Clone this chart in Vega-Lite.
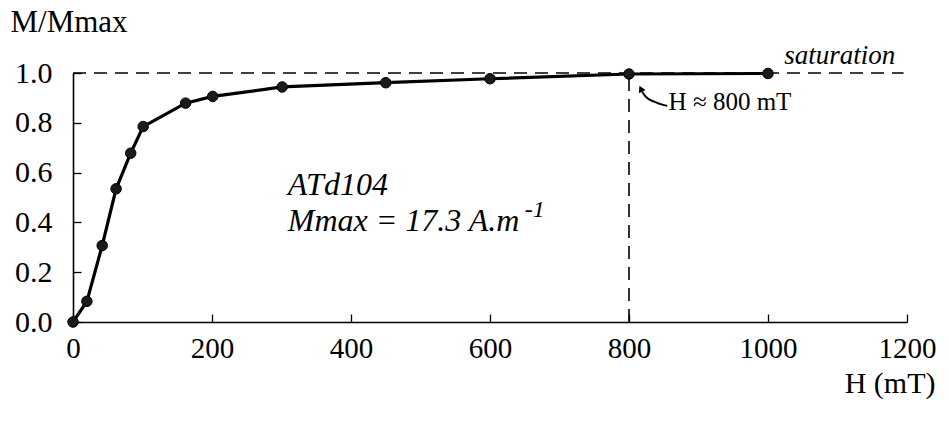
{
  "$schema": "https://vega.github.io/schema/vega-lite/v6.json",
  "width": 834,
  "height": 249,
  "autosize": {"type": "none"},
  "padding": {"left": 73, "top": 73, "right": 42, "bottom": 101},
  "background": "white",
  "config": {
    "view": {"stroke": null},
    "font": "Liberation Serif"
  },
  "datasets": {
    "curve": [
      {"H": 0, "M": 0.0},
      {"H": 20, "M": 0.083},
      {"H": 42, "M": 0.307},
      {"H": 62, "M": 0.535},
      {"H": 83, "M": 0.678},
      {"H": 101, "M": 0.785},
      {"H": 162, "M": 0.879},
      {"H": 201, "M": 0.906},
      {"H": 301, "M": 0.944},
      {"H": 450, "M": 0.961},
      {"H": 600, "M": 0.977},
      {"H": 800, "M": 0.996},
      {"H": 1000, "M": 0.998}
    ],
    "hline": [{"H": 0, "M": 1.0}, {"H": 1195, "M": 1.0}],
    "vline": [{"H": 800, "M": 0.0}, {"H": 800, "M": 1.0}],
    "arrow": [
      {"H": 855, "M": 0.868, "o": 0},
      {"H": 836, "M": 0.885, "o": 1},
      {"H": 824, "M": 0.905, "o": 2},
      {"H": 819, "M": 0.925, "o": 3}
    ],
    "arrowhead": [{"H": 817, "M": 0.937}],
    "sat": [{"H": 1183, "M": 1.068, "t": "saturation"}],
    "hnote": [{"H": 857, "M": 0.885, "t": "H ≈ 800 mT"}],
    "sample": [
      {"H": 309, "M": 0.552, "t": "ATd104"},
      {"H": 309, "M": 0.405, "t": "Mmax = 17.3 A.m"}
    ],
    "sup": [{"H": 650, "M": 0.448, "t": "-1"}]
  },
  "layer": [
    {
      "data": {"name": "hline"},
      "mark": {"type": "line", "color": "black", "strokeWidth": 1.6, "strokeDash": [13, 8], "clip": false},
      "encoding": {
        "x": {
          "field": "H", "type": "quantitative",
          "scale": {"domain": [0, 1200], "nice": false, "zero": true},
          "axis": {
            "values": [0, 200, 400, 600, 800, 1000, 1200],
            "format": "d",
            "title": "H (mT)",
            "titleFont": "Liberation Serif",
            "titleFontSize": 30,
            "titleFontWeight": "normal",
            "titleColor": "black",
            "titleAlign": "right",
            "titleAnchor": null,
            "titleAngle": 0,
            "titleX": 862,
            "titleY": 61,
            "titleBaseline": "middle",
            "labelFont": "Liberation Serif",
            "labelFontSize": 29,
            "labelColor": "black",
            "labelPadding": 34,
            "labelBaseline": "middle",
            "tickSize": -8,
            "tickColor": "black",
            "tickWidth": 1.3,
            "domainColor": "black",
            "domainWidth": 1.6,
            "grid": false,
            "labelFlush": false
          }
        },
        "y": {
          "field": "M", "type": "quantitative",
          "scale": {"domain": [0, 1], "nice": false},
          "axis": {
            "values": [0, 0.2, 0.4, 0.6, 0.8, 1.0],
            "format": ".1f",
            "title": "M/Mmax",
            "titleFont": "Liberation Serif",
            "titleFontSize": 31,
            "titleFontWeight": "normal",
            "titleColor": "black",
            "titleAngle": 0,
            "titleAlign": "left",
            "titleAnchor": null,
            "titleX": -63,
            "titleY": -51,
            "titleBaseline": "middle",
            "labelFont": "Liberation Serif",
            "labelFontSize": 30,
            "labelColor": "black",
            "labelPadding": 29,
            "labelBaseline": "middle",
            "tickSize": -8,
            "tickColor": "black",
            "tickWidth": 1.3,
            "domainColor": "black",
            "domainWidth": 1.6,
            "grid": false,
            "labelFlush": false
          }
        }
      }
    },
    {
      "data": {"name": "vline"},
      "mark": {"type": "line", "color": "black", "strokeWidth": 1.6, "strokeDash": [13, 8]},
      "encoding": {
        "x": {"field": "H", "type": "quantitative"},
        "y": {"field": "M", "type": "quantitative"}
      }
    },
    {
      "data": {"name": "curve"},
      "mark": {"type": "line", "color": "black", "strokeWidth": 3.2, "clip": false},
      "encoding": {
        "x": {"field": "H", "type": "quantitative"},
        "y": {"field": "M", "type": "quantitative"}
      }
    },
    {
      "data": {"name": "curve"},
      "mark": {"type": "point", "filled": true, "shape": "circle", "size": 110, "color": "#1a1a1a", "opacity": 1, "stroke": "black", "strokeWidth": 1, "clip": false},
      "encoding": {
        "x": {"field": "H", "type": "quantitative"},
        "y": {"field": "M", "type": "quantitative"}
      }
    },
    {
      "data": {"name": "arrow"},
      "mark": {"type": "line", "color": "black", "strokeWidth": 2, "interpolate": "monotone"},
      "encoding": {
        "x": {"field": "H", "type": "quantitative"},
        "y": {"field": "M", "type": "quantitative"},
        "order": {"field": "o", "type": "quantitative"}
      }
    },
    {
      "data": {"name": "arrowhead"},
      "mark": {"type": "point", "shape": "triangle-up", "filled": true, "size": 55, "color": "black", "opacity": 1, "angle": -25},
      "encoding": {
        "x": {"field": "H", "type": "quantitative"},
        "y": {"field": "M", "type": "quantitative"}
      }
    },
    {
      "data": {"name": "sat"},
      "mark": {"type": "text", "color": "black", "font": "Liberation Serif", "fontStyle": "italic", "fontSize": 27, "align": "right", "baseline": "middle"},
      "encoding": {
        "x": {"field": "H", "type": "quantitative"},
        "y": {"field": "M", "type": "quantitative"},
        "text": {"field": "t"}
      }
    },
    {
      "data": {"name": "hnote"},
      "mark": {"type": "text", "color": "black", "font": "Liberation Serif", "fontSize": 25, "align": "left", "baseline": "middle"},
      "encoding": {
        "x": {"field": "H", "type": "quantitative"},
        "y": {"field": "M", "type": "quantitative"},
        "text": {"field": "t"}
      }
    },
    {
      "data": {"name": "sample"},
      "mark": {"type": "text", "color": "black", "font": "Liberation Serif", "fontStyle": "italic", "fontSize": 32, "align": "left", "baseline": "middle"},
      "encoding": {
        "x": {"field": "H", "type": "quantitative"},
        "y": {"field": "M", "type": "quantitative"},
        "text": {"field": "t"}
      }
    },
    {
      "data": {"name": "sup"},
      "mark": {"type": "text", "color": "black", "font": "Liberation Serif", "fontStyle": "italic", "fontSize": 24, "align": "left", "baseline": "middle"},
      "encoding": {
        "x": {"field": "H", "type": "quantitative"},
        "y": {"field": "M", "type": "quantitative"},
        "text": {"field": "t"}
      }
    }
  ]
}
